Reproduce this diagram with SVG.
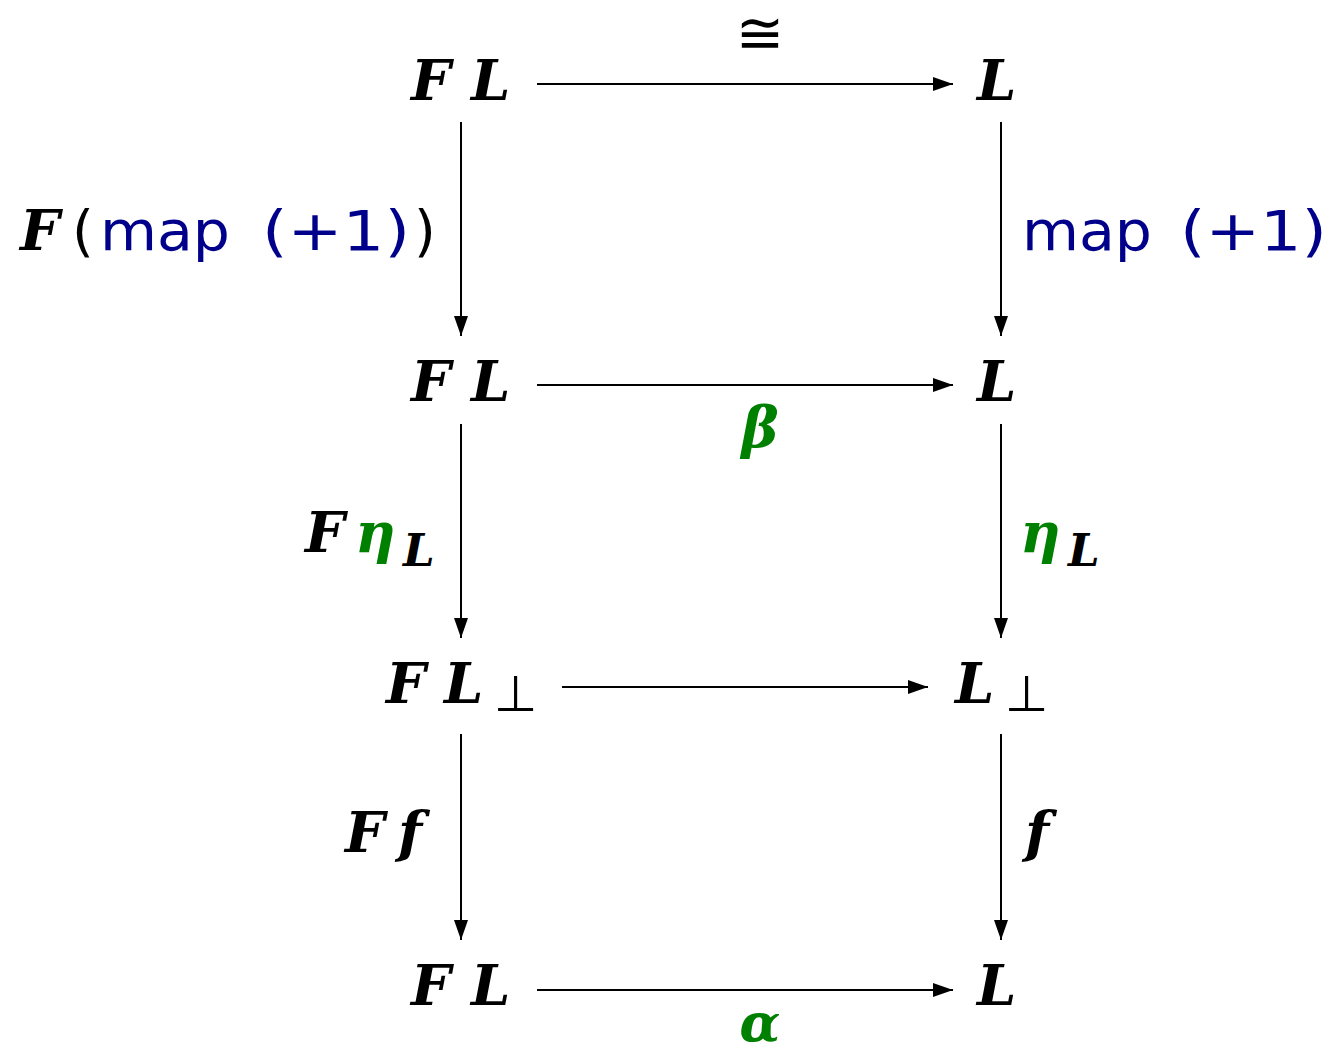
<svg xmlns="http://www.w3.org/2000/svg" width="1332" height="1055" viewBox="0 0 1332 1055">
<style>
.m{font-family:"DejaVu Serif","Liberation Serif",serif;font-weight:bold;font-style:italic;font-size:56px;fill:#000}
.sub{font-size:45px}
.s{font-family:"DejaVu Sans","Liberation Sans",sans-serif;font-size:56px;fill:#00008b}
.k{fill:#000}
.g{fill:#008000}
.p{font-family:"DejaVu Sans",sans-serif;font-style:normal;font-weight:normal;font-size:50px;fill:#000}
.c{stroke:#000;stroke-width:2;fill:none}
</style>
<defs>
<marker id="ah" viewBox="0 0 20 14" refX="20" refY="7" markerWidth="20" markerHeight="14" markerUnits="userSpaceOnUse" orient="auto">
<path d="M0,0 L20,7 L0,14 Z" fill="#000"/>
</marker>
</defs>
<g id="connectors">
<line class="c" x1="537" y1="84" x2="953" y2="84" marker-end="url(#ah)"/>
<line class="c" x1="537" y1="385" x2="953" y2="385" marker-end="url(#ah)"/>
<line class="c" x1="562" y1="687" x2="928" y2="687" marker-end="url(#ah)"/>
<line class="c" x1="537" y1="990" x2="953" y2="990" marker-end="url(#ah)"/>
<line class="c" x1="461" y1="122" x2="461" y2="336" marker-end="url(#ah)"/>
<line class="c" x1="1001" y1="122" x2="1001" y2="336" marker-end="url(#ah)"/>
<line class="c" x1="461" y1="424" x2="461" y2="638" marker-end="url(#ah)"/>
<line class="c" x1="1001" y1="424" x2="1001" y2="638" marker-end="url(#ah)"/>
<line class="c" x1="461" y1="734" x2="461" y2="940" marker-end="url(#ah)"/>
<line class="c" x1="1001" y1="734" x2="1001" y2="940" marker-end="url(#ah)"/>
<text x="760" y="53" text-anchor="middle" style="font-family:'DejaVu Sans',sans-serif;font-size:58px">≅</text>
<text x="760" y="447" text-anchor="middle" class="m g">β</text>
<text x="760" y="1041" text-anchor="middle" class="m g" style="font-size:53px">α</text>
<text y="250"><tspan x="20" class="m">F</tspan><tspan x="72" class="s k">(</tspan><tspan x="100" class="s" textLength="130" lengthAdjust="spacingAndGlyphs">map</tspan><tspan x="262" class="s" textLength="148" lengthAdjust="spacingAndGlyphs">(+1)</tspan><tspan x="414" class="s k">)</tspan></text>
<text y="250"><tspan x="1022" class="s" textLength="130" lengthAdjust="spacingAndGlyphs">map</tspan><tspan x="1180" class="s" textLength="147" lengthAdjust="spacingAndGlyphs">(+1)</tspan></text>
<text y="552"><tspan x="305" class="m">F</tspan><tspan x="355" class="m g">η</tspan><tspan x="403" class="m sub" dy="14">L</tspan></text>
<text y="552"><tspan x="1020" class="m g">η</tspan><tspan x="1068" class="m sub" dy="14">L</tspan></text>
<text y="852"><tspan x="345" class="m">F</tspan><tspan x="398" class="m">f</tspan></text>
<text x="1025" y="852" class="m">f</text>
</g>
<g id="n1"><text class="m" y="100"><tspan x="411">F</tspan><tspan x="471">L</tspan></text></g>
<g id="n2"><text class="m" x="977" y="100">L</text></g>
<g id="n3"><text class="m" y="401"><tspan x="411">F</tspan><tspan x="471">L</tspan></text></g>
<g id="n4"><text class="m" x="977" y="401">L</text></g>
<g id="n5"><text class="m" y="703"><tspan x="386">F</tspan><tspan x="444">L</tspan><tspan class="p" x="494" dy="8">⊥</tspan></text></g>
<g id="n6"><text class="m" y="703"><tspan x="955">L</tspan><tspan class="p" x="1005" dy="8">⊥</tspan></text></g>
<g id="n7"><text class="m" y="1005"><tspan x="411">F</tspan><tspan x="471">L</tspan></text></g>
<g id="n8"><text class="m" x="977" y="1005">L</text></g>
</svg>
